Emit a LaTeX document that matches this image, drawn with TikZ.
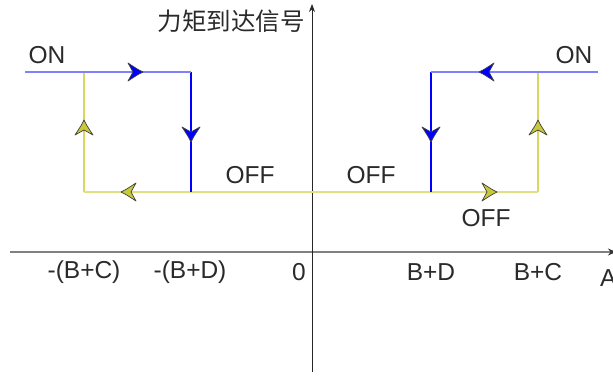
\documentclass[tikz,border=0pt]{standalone}
\usepackage{fontspec}
\setmainfont{Liberation Sans}
\newfontfamily\cjk{Noto Sans CJK SC}
\usetikzlibrary{arrows.meta,decorations.markings}
\definecolor{onblue}{HTML}{8080FF}
\definecolor{vblue}{HTML}{0000FF}
\definecolor{ylw}{HTML}{E0E080}
\definecolor{ylwv}{HTML}{D8D860}
\definecolor{ylwfill}{HTML}{C8C83C}
\definecolor{txt}{HTML}{2A2A2A}
\newcommand{\headpath}{(0,0) .. controls (-5,-2.5) .. (-15,-9) -- (-10,0) -- (-15,9) .. controls (-5,2.5) .. (0,0) -- cycle}
\tikzset{
  lbl/.style={text=txt,inner sep=0pt,font=\fontsize{24.5}{28}\selectfont},
  bluetip/.style={decoration={markings,mark=at position #1 with {\filldraw[fill=vblue,draw=black!75,line width=0.7pt,line join=round] \headpath;}},postaction={decorate}},
  ylwtip/.style={decoration={markings,mark=at position #1 with {\filldraw[fill=ylwfill,draw=black!75,line width=0.7pt,line join=round] \headpath;}},postaction={decorate}},
  online/.style={draw=onblue,line width=2pt},
  bluev/.style={draw=vblue,line width=1.3pt},
  ylwh/.style={draw=ylw,line width=2pt},
  ylwvl/.style={draw=ylwv,line width=1.4pt},
}
\begin{document}
\begin{tikzpicture}[x=1pt,y=-1pt]
\useasboundingbox (0,0) rectangle (613,376);
% coordinates
\coordinate (vbot) at (312,372);
\coordinate (vtop) at (312,4);
\coordinate (hl) at (10,252);
\coordinate (hr) at (616,252);
\coordinate (lon) at (25,72);
\coordinate (lc) at (84,72);
\coordinate (ld) at (191,72);
\coordinate (lcb) at (84,192);
\coordinate (ldb) at (191,192);
\coordinate (mid) at (312,192);
\coordinate (rdb) at (431,192);
\coordinate (rcb) at (538,192);
\coordinate (rd) at (431,72);
\coordinate (rc) at (538,72);
\coordinate (ron) at (598,72);
% axes
\draw[draw=black!50,line width=2pt,-{Stealth[length=8pt,width=7pt,fill=black!80,color=black!80]}] (hl) -- (hr);
\draw[draw=black!85,line width=1pt,-{Stealth[length=8pt,width=6pt]}] (vbot) -- (vtop);
% yellow
\path[ylwvl,ylwtip=72pt] (lcb) -- (lc);
\path[ylwvl,ylwtip=72pt] (rcb) -- (rc);
\path[ylwh,ylwtip=191pt] (mid) -- (lcb);
\path[ylwh,ylwtip=185pt] (mid) -- (rcb);
% blue
\path[bluev,bluetip=70pt] (ld) -- (ldb);
\path[bluev,bluetip=70pt] (rd) -- (rdb);
\path[online,bluetip=118pt] (lon) -- (ld);
\path[online,bluetip=119pt] (ron) -- (rd);
% labels
\node[lbl,font=\cjk\fontsize{24.5}{28}\selectfont,anchor=east] (title) at (305,21) {力矩到达信号};
\node[lbl] (onl) at (47,55) {ON};
\node[lbl] (onr) at (574,55) {ON};
\node[lbl] (offl) at (250,175) {OFF};
\node[lbl] (offm) at (371,175) {OFF};
\node[lbl] (offr) at (486,218) {OFF};
\node[lbl] (tbc) at (84,272) {-(B+C)};
\node[lbl] (tbd) at (190,272) {-(B+D)};
\node[lbl] (t0) at (299,272) {0};
\node[lbl] (pbd) at (431,272) {B+D};
\node[lbl] (pbc) at (538,272) {B+C};
\node[lbl,anchor=west] (ax) at (600,278) {A};
\end{tikzpicture}
\end{document}
